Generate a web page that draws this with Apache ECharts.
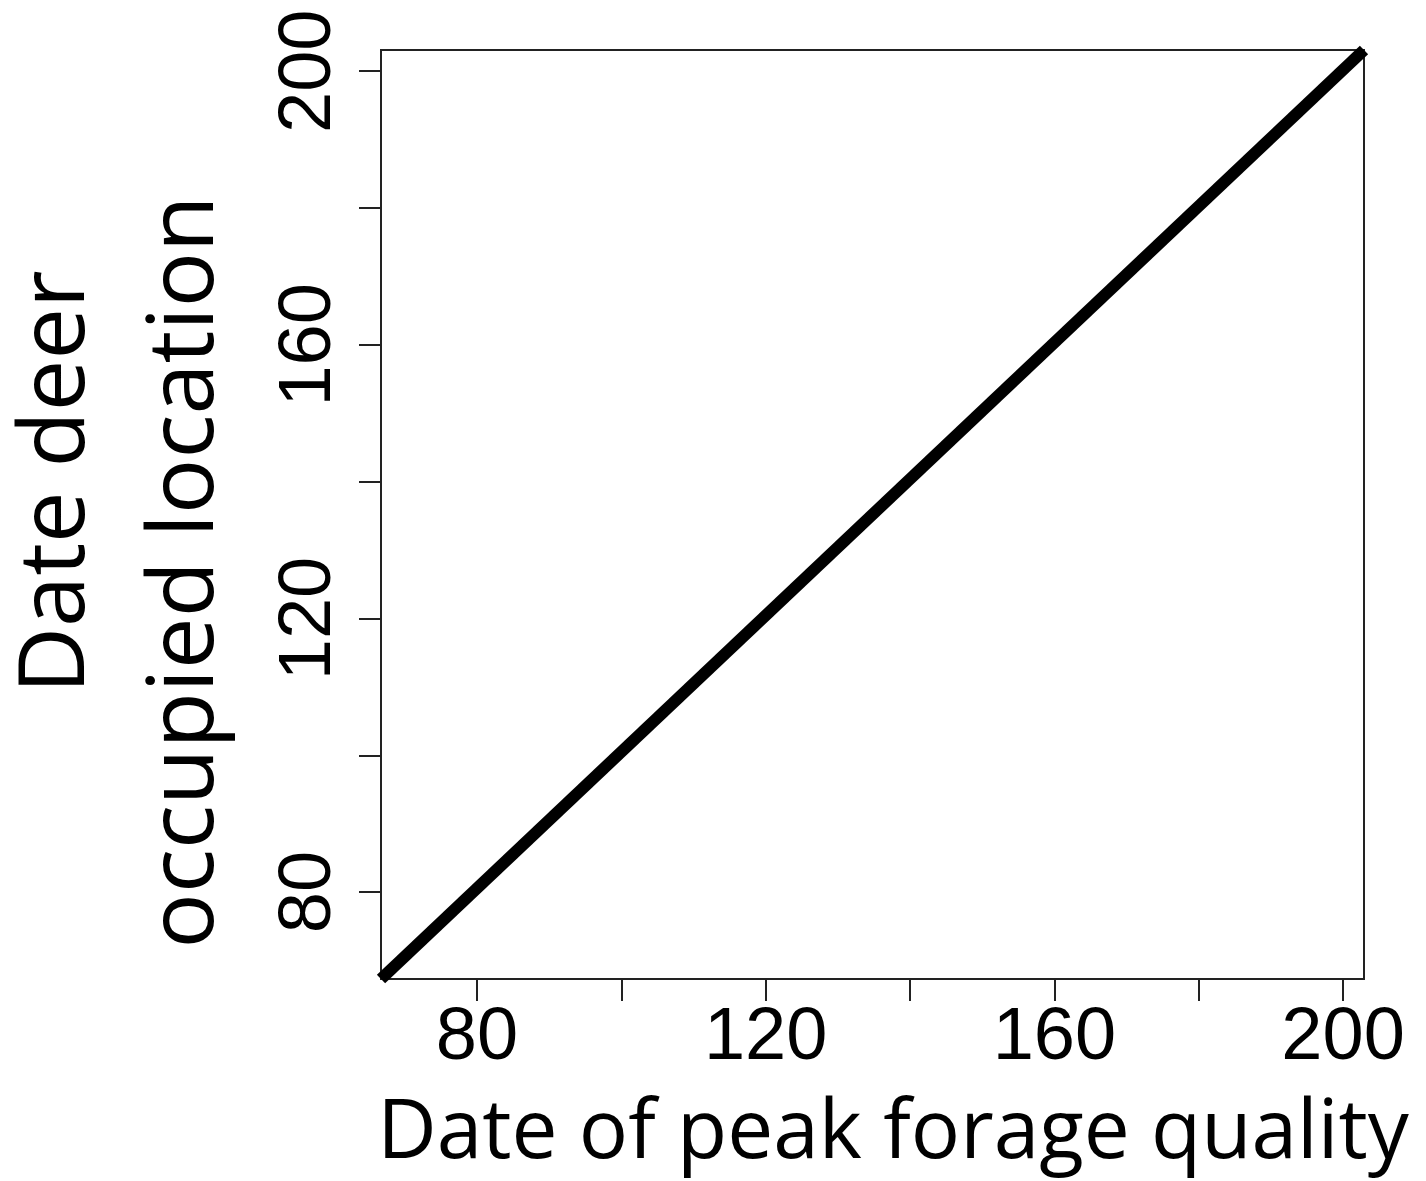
<!DOCTYPE html>
<html>
<head>
<meta charset="utf-8">
<script src="https://cdn.jsdelivr.net/npm/echarts@6/dist/echarts.min.js"></script>
<style>
  html, body { margin: 0; padding: 0; background: #fff; }
  #chart { width: 1426px; height: 1181px; }
</style>
</head>
<body>
<div id="chart"></div>
<script>
// fitted line, corner to corner of the plot box
const peakDate = [66.7, 202.9];
const occupiedDate = [67.3, 203.1];

const tickValues = [80, 100, 120, 140, 160, 180, 200];
const labelValues = [80, 120, 160, 200];

const xRange = [66.7, 202.9];
const yRange = [67.3, 203.1];

const linePoints = peakDate.map((x, i) => [x, occupiedDate[i]]);

const myChart = echarts.init(document.getElementById('chart'));

const tickFont = {
  color: '#000',
  fontFamily: 'Liberation Sans',
  fontSize: 74
};

myChart.setOption({
  animation: false,
  grid: {
    left: 381, top: 50, right: 62, bottom: 202,
    show: true,
    borderColor: '#222',
    borderWidth: 2
  },
  xAxis: {
    type: 'value',
    min: xRange[0],
    max: xRange[1],
    splitLine: { show: false },
    axisLine: { show: false },
    axisTick: {
      show: true,
      length: 22,
      customValues: tickValues,
      lineStyle: { color: '#222', width: 2 }
    },
    axisLabel: Object.assign({
      customValues: labelValues,
      margin: 23
    }, tickFont)
  },
  yAxis: {
    type: 'value',
    min: yRange[0],
    max: yRange[1],
    splitLine: { show: false },
    axisLine: { show: false },
    axisTick: {
      show: true,
      length: 22,
      customValues: tickValues,
      lineStyle: { color: '#222', width: 2 }
    },
    axisLabel: Object.assign({
      customValues: labelValues,
      rotate: 90,
      margin: 34
    }, tickFont)
  },
  series: [{
    type: 'line',
    data: linePoints,
    symbol: 'none',
    clip: true,
    lineStyle: { color: '#000', width: 12 }
  }],
  graphic: [
    {
      type: 'text',
      x: 893, y: 1135,
      style: {
        text: 'Date of peak forage quality',
        fontFamily: 'Open Sans',
        fontSize: 82,
        fill: '#000',
        align: 'center',
        verticalAlign: 'middle'
      }
    },
    {
      type: 'text',
      x: 58, y: 482,
      rotation: Math.PI / 2,
      style: {
        text: 'Date deer',
        fontFamily: 'Open Sans',
        fontSize: 92,
        fill: '#000',
        align: 'center',
        verticalAlign: 'middle'
      }
    },
    {
      type: 'text',
      x: 187, y: 572,
      rotation: Math.PI / 2,
      style: {
        text: 'occupied location',
        fontFamily: 'Open Sans',
        fontSize: 92,
        fill: '#000',
        align: 'center',
        verticalAlign: 'middle'
      }
    }
  ]
});

window.onresize = function () {
  myChart.resize();
};
</script>
</body>
</html>
